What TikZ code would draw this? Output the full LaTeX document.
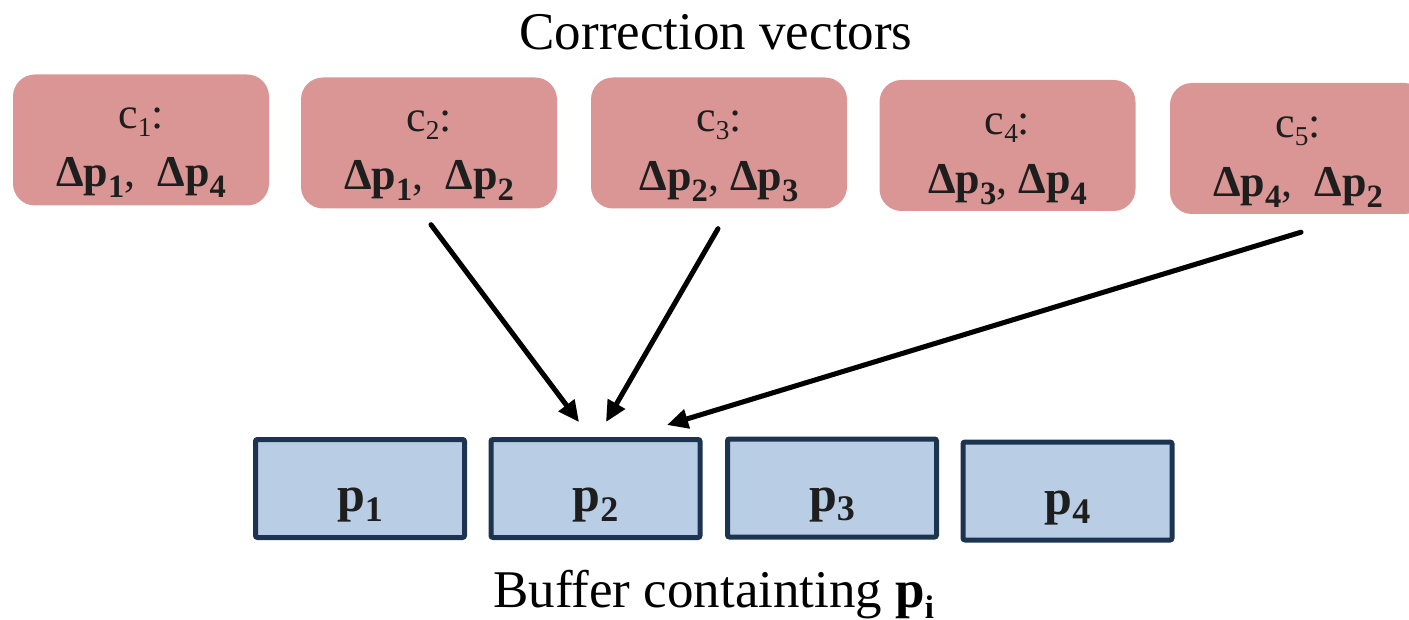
\documentclass[tikz,border=0pt]{standalone}
\usepackage{fontspec}
\setmainfont{Liberation Serif}
\usetikzlibrary{arrows.meta,calc}

\definecolor{corrfill}{HTML}{D99694}
\definecolor{buffill}{HTML}{B9CDE5}
\definecolor{bufedge}{HTML}{1C3450}
\definecolor{ink}{HTML}{1E1E1E}

% lowered, shrunk index
\newcommand\lowsub[3][0.72]{\raisebox{-#2em}{\scalebox{#1}{#3}}}
% bold delta-p with a bold index
\newcommand\dlt[1]{\textbf{Δp}\lowsub[0.74]{0.24}{\textbf{#1}}}

\begin{document}
\begin{tikzpicture}[x=1pt,y=-1pt,
  corr/.style={fill=corrfill, rounded corners=22pt, minimum width=256pt,
    minimum height=131pt, inner sep=0pt},
  buf/.style={fill=buffill, draw=bufedge, line width=5pt, rounded corners=2pt,
    minimum width=209pt, minimum height=98pt, inner sep=0pt},
  boxtxt/.style={font=\fontsize{44}{50}\selectfont, text=ink, anchor=base, inner sep=0pt},
  buftxt/.style={font=\fontsize{50}{56}\selectfont, text=ink, anchor=base, inner sep=0pt},
  caption/.style={font=\fontsize{53}{60}\selectfont, text=black, anchor=base, inner sep=0pt},
  arr/.style={line width=5pt, line cap=round, draw=black,
    -{Triangle[length=21pt,width=19pt]}},
  arrshade/.style={arr, draw=black!40, opacity=0.35, shift={(2pt,3pt)}}
]
\clip (0,0) rectangle (1409,620);

% title
\node[caption, anchor=base] (title) at (716,50) {Correction vectors};

% correction vectors
\node[corr] (c1) at (141,140) {};
\node[corr] (c2) at (429,143) {};
\node[corr] (c3) at (719,143) {};
\node[corr] (c4) at (1007.5,145.5) {};
\node[corr] (c5) at (1298,148.5) {};

\foreach \n in {1,...,5}{
  \node[boxtxt] (c\n a) at ($(c\n.center)+(0,-11)$) {c\lowsub[0.62]{0.18}{\n}:};
}
\node[boxtxt] (c1b) at ($(c1.center)+(0,47)$) {\dlt{1},\ \ \dlt{4}};
\node[boxtxt] (c2b) at ($(c2.center)+(0,47)$) {\dlt{1},\ \ \dlt{2}};
\node[boxtxt] (c3b) at ($(c3.center)+(0,48)$) {\dlt{2},\ \dlt{3}};
\node[boxtxt] (c4b) at ($(c4.center)+(0,48)$) {\dlt{3},\ \dlt{4}};
\node[boxtxt] (c5b) at ($(c5.center)+(0,48)$) {\dlt{4},\ \ \dlt{2}};

% buffer
\node[buf] (p1) at (360,488.5) {};
\node[buf] (p2) at (595.5,488.5) {};
\node[buf] (p3) at (832,488) {};
\node[buf] (p4) at (1067.5,491) {};
\foreach \n in {1,2,3,4}{
  \node[buftxt] (p\n t) at ($(p\n.center)+(0,23)$) {\textbf{p}\lowsub[0.72]{0.2}{\textbf{\n}}};
}

\node[caption, anchor=base west] (bufcap) at (493,607) {Buffer containting \textbf{p}\lowsub[0.62]{0.22}{\textbf{i}}};

% updates flowing into p2
\foreach \sty in {arrshade,arr}{
  \draw[\sty] ($(c2.south)+(2,16)$) -- ($(p2.north)+(-16.5,-15)$);
  \draw[\sty] ($(c3.south)+(-1,20)$) -- ($(p2.north)+(10.5,-15)$);
  \draw[\sty] ($(c5.south)+(3,18)$) -- ($(p2.north)+(71.5,-12)$);
}
\end{tikzpicture}
\end{document}
